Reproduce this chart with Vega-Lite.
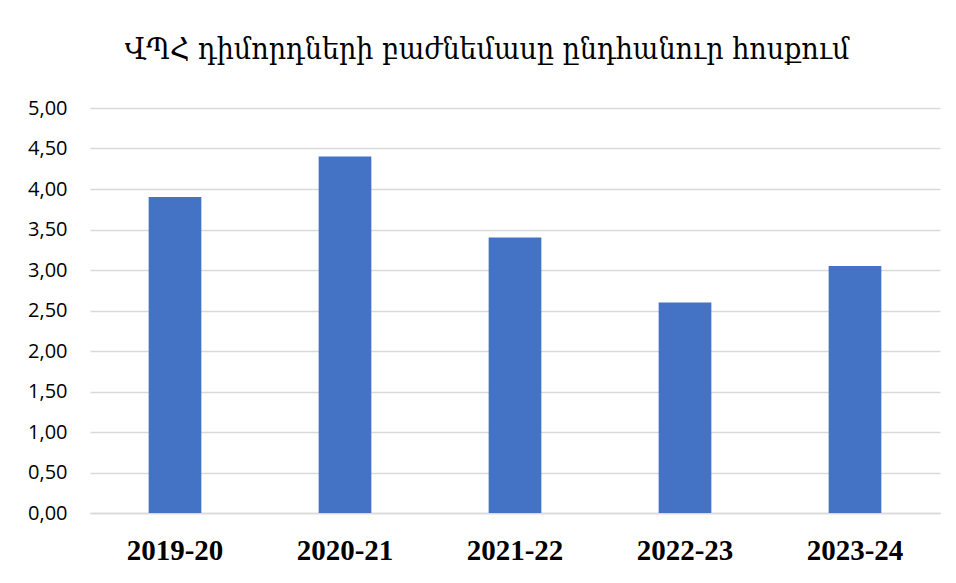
{
  "$schema": "https://vega.github.io/schema/vega-lite/v6.json",
  "autosize": "none",
  "width": 850,
  "height": 405,
  "padding": {"left": 90, "top": 108, "right": 16, "bottom": 70},
  "background": "white",
  "title": {
    "text": "ՎՊՀ դիմորդների բաժնեմասը ընդհանուր հոսքում",
    "font": "DejaVu Serif Condensed",
    "fontSize": 30,
    "fontWeight": "normal",
    "color": "#000000",
    "anchor": "middle",
    "dx": -28,
    "offset": 33
  },
  "data": {
    "values": [
      {"year": "2019-20", "value": 3.9},
      {"year": "2020-21", "value": 4.4},
      {"year": "2021-22", "value": 3.4},
      {"year": "2022-23", "value": 2.6},
      {"year": "2023-24", "value": 3.05}
    ]
  },
  "mark": {"type": "bar", "color": "#4472C4"},
  "encoding": {
    "x": {
      "field": "year",
      "type": "nominal",
      "sort": null,
      "scale": {"paddingInner": 0.69, "paddingOuter": 0.345},
      "axis": {
        "title": null,
        "labelAngle": 0,
        "labelFont": "Liberation Serif",
        "labelFontWeight": "bold",
        "labelFontSize": 29,
        "labelColor": "#000000",
        "labelPadding": 23,
        "ticks": false,
        "domainColor": "#d9d9d9",
        "domainWidth": 1.5
      }
    },
    "y": {
      "field": "value",
      "type": "quantitative",
      "scale": {"domain": [0, 5]},
      "axis": {
        "title": null,
        "values": [0, 0.5, 1, 1.5, 2, 2.5, 3, 3.5, 4, 4.5, 5],
        "labelExpr": "replace(format(datum.value, '.2f'), '.', ',')",
        "labelFont": "Open Sans",
        "labelFontSize": 20,
        "labelColor": "#000000",
        "labelPadding": 23,
        "ticks": false,
        "domain": false,
        "gridColor": "#d9d9d9",
        "gridWidth": 1.5
      }
    }
  },
  "config": {
    "view": {"stroke": null}
  }
}
